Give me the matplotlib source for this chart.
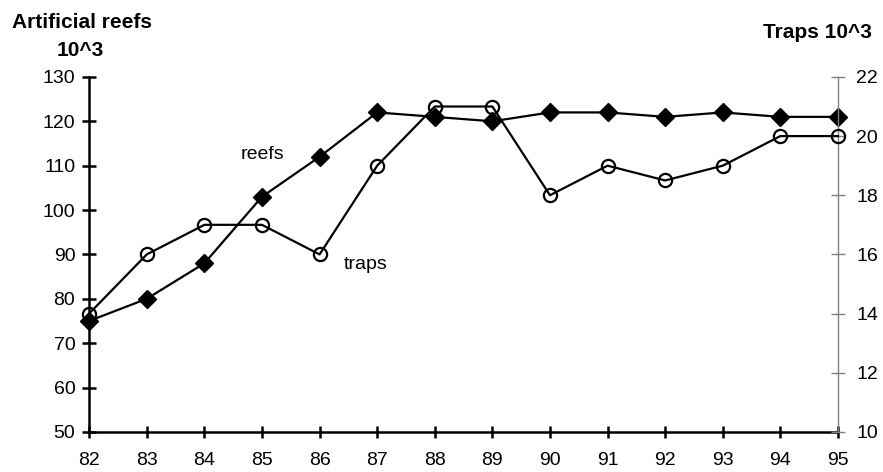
import matplotlib.pyplot as plt

plt.rcParams['font.family'] = ['Liberation Sans', 'DejaVu Sans']

years = [82, 83, 84, 85, 86, 87, 88, 89, 90, 91, 92, 93, 94, 95]
reefs = [75, 80, 88, 103, 112, 122, 121, 120, 122, 122, 121, 122, 121, 121]
traps = [14, 16, 17, 17, 16, 19, 21, 21, 18, 19, 18.5, 19, 20, 20]

fig = plt.figure(figsize=(8.83, 4.72), dpi=100)
ax = fig.add_axes([0.101, 0.085, 0.848, 0.752])
ax2 = ax.twinx()

ax.plot(years, reefs, "-", color="black", lw=1.6, marker="D", ms=9,
        mfc="black", mec="black", clip_on=False, zorder=3)
ax2.plot(years, traps, "-", color="black", lw=1.6, marker="o", ms=9.5,
         mfc="none", mec="black", mew=1.6, clip_on=False, zorder=3)

ax.set_xlim(82, 95)
ax.set_ylim(50, 130)
ax2.set_ylim(10, 22)
ax.set_xticks(years)
ax.set_yticks(range(50, 131, 10))
ax2.set_yticks(range(10, 23, 2))

for a in (ax, ax2):
    a.spines["top"].set_visible(False)
ax.spines["left"].set_linewidth(1.8)
ax.spines["bottom"].set_linewidth(1.8)
ax.spines["right"].set_visible(False)
ax2.spines["left"].set_visible(False)
ax2.spines["bottom"].set_visible(False)
ax2.spines["right"].set_color("#808080")
ax2.spines["right"].set_linewidth(1.0)

ax.tick_params(axis="y", direction="inout", length=10, width=1.8, pad=5, labelsize=14)
ax.tick_params(axis="x", direction="inout", length=9, width=1.8, pad=10, labelsize=14)
ax2.tick_params(axis="y", direction="inout", length=10, width=1.0, color="#808080",
                pad=8, labelsize=14)

ax.text(85, 112.5, "reefs", fontsize=14, ha="center", va="center")
ax.text(86.42, 87.8, "traps", fontsize=14, ha="left", va="center")

fig.text(12 / 883, 1 - 23 / 472, "Artificial reefs", fontsize=15, fontweight="bold",
         ha="left", va="center")
fig.text(80 / 883, 1 - 50 / 472, "10^3", fontsize=15, fontweight="bold",
         ha="center", va="center")
fig.text(872 / 883, 1 - 33 / 472, "Traps 10^3", fontsize=15, fontweight="bold",
         ha="right", va="center")

fig.savefig("out.png", dpi=100)
